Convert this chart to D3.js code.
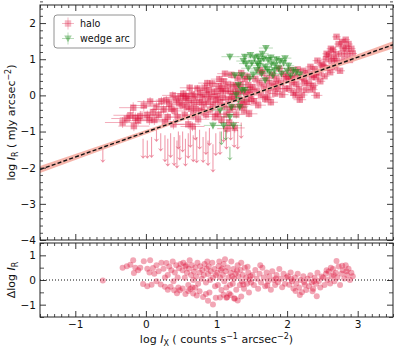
<!DOCTYPE html>
<html><head><meta charset="utf-8">
<script src="https://cdn.jsdelivr.net/npm/d3@7"></script>
<style>body{margin:0;background:#fff}svg{display:block}text{font-family:"DejaVu Sans",sans-serif;fill:#111}</style>
</head><body><svg id="c" width="399" height="352"></svg>
<script>
// ---- data ----
const xTicks = [-1, 0, 1, 2, 3];
const yTicksMain = [-4, -3, -2, -1, 0, 1, 2];
const yTicksResid = [-1, 0, 1];
const fitCoef = [-1.015, 0.69];               // intercept, slope of dashed fit
const bandX = [-1.5, -0.5, 0.5, 1.2, 2.0, 3.0, 3.5];
const bandHalf = [0.10, 0.07, 0.045, 0.035, 0.045, 0.08, 0.10];
const legendLabels = ["halo", "wedge arc"];
// halo detections: [log Ix, log Ir, xerr, yerr]
const halo = [
[-0.33,-0.75,0.25,0.15],[-0.27,-0.64,0.22,0.14],[-0.22,-0.55,0.24,0.16],[-0.18,-0.34,0.2,0.15],[-0.17,-0.85,0.22,0.14],[-0.11,-0.70,0.2,0.13],[-0.03,-0.28,0.18,0.15],[-0.08,-0.57,0.2,0.14],[0.06,-0.17,0.18,0.12],[0.02,-0.55,0.2,0.13],[0.10,-0.46,0.18,0.12],[0.05,-0.68,0.2,0.14],[-0.15,-0.62,0.22,0.15],
[0.15,-0.31,0.18,0.12],[0.18,-0.54,0.17,0.13],[0.22,-0.16,0.16,0.12],[0.25,-0.39,0.18,0.12],[0.29,-0.13,0.15,0.11],[0.31,-0.60,0.17,0.13],[0.33,-0.24,0.16,0.12],[0.36,-0.37,0.15,0.12],[0.38,0.00,0.15,0.11],[0.41,-0.43,0.16,0.12],[0.43,-0.12,0.15,0.11],[0.45,-0.60,0.16,0.13],[0.47,-0.21,0.14,0.11],[0.49,-0.03,0.14,0.1],[0.27,-0.73,0.18,0.14],[0.12,-0.68,0.2,0.14],[0.39,-0.80,0.16,0.14],
[0.52,-0.26,0.16,0.11],[0.53,0.05,0.15,0.1],[0.55,-0.54,0.17,0.12],[0.56,-0.08,0.15,0.1],[0.58,-0.32,0.16,0.11],[0.60,-0.80,0.17,0.13],[0.61,-0.14,0.15,0.1],[0.62,0.21,0.14,0.1],[0.64,-0.37,0.16,0.11],[0.65,0.03,0.15,0.1],[0.67,-0.55,0.16,0.12],[0.68,-0.20,0.15,0.1],[0.70,-0.03,0.14,0.1],[0.71,-0.38,0.15,0.11],[0.73,0.19,0.14,0.1],[0.74,-0.66,0.16,0.12],[0.76,-0.19,0.14,0.1],[0.77,0.07,0.14,0.1],[0.79,-0.42,0.15,0.11],[0.80,-0.06,0.14,0.1],[0.82,-0.25,0.14,0.1],[0.83,0.21,0.13,0.1],[0.85,-0.53,0.15,0.12],[0.86,0.03,0.13,0.1],[0.88,-0.16,0.14,0.1],[0.89,0.15,0.13,0.09],[0.91,-0.39,0.14,0.11],[0.92,-0.03,0.13,0.1],[0.94,0.33,0.13,0.09],[0.95,-0.26,0.14,0.1],[0.97,0.10,0.13,0.09],[0.98,-0.59,0.15,0.12],[0.99,-0.13,0.13,0.1],[0.57,-0.02,0.15,0.1],[0.66,-0.86,0.17,0.13],[0.87,0.34,0.13,0.09],
[1.01,-0.02,0.12,0.09],[1.02,-0.51,0.13,0.11],[1.03,0.25,0.12,0.09],[1.05,-0.19,0.12,0.1],[1.06,0.12,0.12,0.09],[1.07,-0.68,0.14,0.12],[1.09,-0.06,0.12,0.09],[1.10,0.39,0.11,0.08],[1.11,-0.30,0.12,0.1],[1.13,0.12,0.11,0.09],[1.14,-0.53,0.13,0.11],[1.16,0.29,0.11,0.08],[1.17,-0.11,0.12,0.09],[1.18,-0.75,0.14,0.12],[1.20,0.11,0.11,0.09],[1.21,0.57,0.11,0.08],[1.23,-0.32,0.12,0.1],[1.24,0.29,0.11,0.08],[1.25,-0.10,0.11,0.09],[1.27,0.11,0.11,0.09],[1.28,-0.53,0.13,0.11],[1.30,0.48,0.1,0.08],[1.31,0.04,0.11,0.09],[1.33,-0.30,0.12,0.1],[1.34,0.31,0.1,0.08],[1.36,-0.13,0.11,0.09],[1.37,0.13,0.1,0.08],[1.39,-0.41,0.12,0.1],[1.40,0.45,0.1,0.08],[1.42,0.07,0.1,0.08],[1.43,-0.18,0.11,0.09],[1.45,0.29,0.1,0.08],[1.46,-0.51,0.12,0.1],[1.48,0.16,0.1,0.08],[1.49,-0.09,0.1,0.09],[1.15,-0.92,0.14,0.13],[1.26,-0.90,0.14,0.13],
[1.04,0.45,0.12,0.09],[1.12,0.60,0.11,0.08],[1.19,-0.40,0.12,0.1],[1.22,-0.02,0.11,0.09],[1.29,0.25,0.11,0.08],[1.35,0.62,0.1,0.08],[1.38,-0.25,0.11,0.09],[1.44,0.52,0.1,0.08],[1.47,0.02,0.1,0.08],[1.08,0.20,0.12,0.09],
[1.51,0.23,0.1,0.08],[1.53,-0.16,0.1,0.09],[1.55,0.46,0.09,0.07],[1.57,0.12,0.1,0.08],[1.59,-0.27,0.11,0.09],[1.61,0.35,0.09,0.07],[1.63,0.01,0.1,0.08],[1.65,0.62,0.09,0.07],[1.67,0.24,0.09,0.08],[1.69,-0.10,0.1,0.09],[1.71,0.47,0.09,0.07],[1.73,0.13,0.09,0.08],[1.75,0.34,0.09,0.07],[1.77,-0.19,0.1,0.09],[1.79,0.57,0.09,0.07],[1.81,0.23,0.09,0.08],[1.83,0.05,0.09,0.08],[1.85,0.46,0.08,0.07],[1.87,0.18,0.09,0.08],[1.89,0.74,0.08,0.07],[1.91,0.35,0.08,0.07],[1.93,0.02,0.09,0.08],[1.95,0.58,0.08,0.07],[1.97,0.19,0.08,0.07],[1.99,0.46,0.08,0.07],[1.62,0.70,0.09,0.07],[1.72,-0.05,0.1,0.08],[1.84,0.32,0.09,0.07],
[2.01,0.52,0.08,0.07],[2.03,0.19,0.08,0.07],[2.05,0.70,0.08,0.06],[2.07,0.36,0.08,0.07],[2.09,0.08,0.08,0.07],[2.11,0.54,0.08,0.06],[2.13,0.31,0.08,0.07],[2.15,0.72,0.07,0.06],[2.17,0.18,0.08,0.07],[2.19,0.50,0.07,0.06],[2.21,0.01,0.08,0.07],[2.23,0.68,0.07,0.06],[2.25,0.34,0.07,0.06],[2.27,0.15,0.08,0.07],[2.29,0.62,0.07,0.06],[2.31,0.33,0.07,0.06],[2.33,0.79,0.07,0.06],[2.35,0.51,0.07,0.06],[2.37,0.27,0.07,0.06],[2.39,0.73,0.07,0.06],[2.41,0.50,0.07,0.06],[2.43,0.96,0.07,0.06],[2.45,0.63,0.07,0.06],[2.47,0.39,0.07,0.06],[2.49,0.85,0.07,0.06],[2.12,0.00,0.08,0.07],[2.36,0.16,0.07,0.07],[2.18,-0.12,0.09,0.08],[2.42,0.00,0.08,0.07],[2.06,0.45,0.08,0.06],[2.24,0.45,0.07,0.06],[2.38,0.58,0.07,0.06],
[2.51,0.82,0.07,0.06],[2.53,0.53,0.07,0.06],[2.55,1.00,0.07,0.06],[2.57,0.76,0.07,0.06],[2.59,1.12,0.06,0.05],[2.61,0.64,0.07,0.06],[2.63,0.95,0.06,0.05],[2.65,1.26,0.06,0.05],[2.67,0.78,0.07,0.06],[2.69,1.14,0.06,0.05],[2.71,0.96,0.06,0.05],[2.73,1.42,0.06,0.05],[2.75,0.68,0.07,0.06],[2.77,1.15,0.06,0.05],[2.79,1.31,0.06,0.05],[2.81,0.98,0.06,0.05],[2.83,1.54,0.06,0.05],[2.85,1.15,0.06,0.05],[2.87,1.42,0.06,0.05],[2.89,0.98,0.06,0.05],[2.91,1.29,0.06,0.05],[2.93,1.16,0.06,0.05],[2.70,1.62,0.06,0.05],[2.62,1.29,0.06,0.05],[2.56,1.15,0.06,0.05],[2.66,1.02,0.06,0.05],[2.78,1.48,0.06,0.05],[2.84,1.30,0.06,0.05]
];
// halo upper limits: [log Ix, limit, arrow length]
const haloLimits = [
[-0.61,-1.46,0.40],[-0.04,-1.20,0.55],[0.08,-1.15,0.58],[0.02,-1.25,0.50],[0.15,-0.96,0.33],[0.27,-1.10,0.75],[0.31,-1.20,0.77],[0.35,-1.05,0.68],[0.40,-1.15,0.80],[0.44,-1.25,0.77],[0.48,-1.10,0.70],[0.52,-1.00,0.58],[0.56,-1.20,0.77],[0.60,-1.05,0.70],[0.63,-0.95,0.50],[0.67,-1.10,0.75],[0.72,-1.15,0.73],[0.76,-0.95,0.55],[0.81,-1.15,0.72],[0.85,-1.00,0.65],[0.90,-0.90,0.50],[0.95,-1.35,0.78],[0.99,-1.05,0.63],[1.05,-1.00,0.65],[1.10,-0.85,0.45],[1.14,-0.95,0.55],[1.20,-0.80,0.45],[1.25,-0.90,0.55],[1.30,-0.95,0.55],[1.35,-0.75,0.45],[0.46,-1.00,0.50],[0.70,-0.85,0.40],[0.88,-1.25,0.70],[0.21,-1.05,0.50]
];
// wedge arc detections: [log Ix, log Ir, xerr, yerr]
const wedge = [
[1.19,1.07,0.12,0.1],[1.70,1.31,0.1,0.08],[1.40,1.07,0.1,0.08],[1.54,1.04,0.1,0.08],[1.59,1.07,0.1,0.08],[1.73,0.98,0.09,0.08],[1.97,1.03,0.09,0.08],[1.83,0.84,0.09,0.08],[1.45,0.75,0.1,0.08],[1.69,0.79,0.09,0.08],[2.09,0.70,0.08,0.07],[2.13,0.65,0.08,0.07],[1.36,0.56,0.1,0.08],[1.47,0.47,0.1,0.08],[1.69,0.42,0.09,0.08],[1.31,0.29,0.1,0.09],[1.36,0.15,0.1,0.09],[1.40,0.15,0.1,0.09],[1.31,-0.13,0.11,0.09],[1.05,-0.41,0.12,0.1],[1.21,-0.32,0.11,0.1],[1.33,-0.32,0.11,0.1],[1.19,-0.59,0.12,0.1],[0.95,-0.83,0.13,0.11],[1.24,-0.83,0.12,0.11],[1.10,-0.83,0.12,0.11],[1.26,0.56,0.1,0.08],[1.50,0.90,0.1,0.08],[1.62,0.95,0.09,0.08],[1.78,0.88,0.09,0.08],[1.88,0.75,0.09,0.08],[1.92,0.60,0.09,0.08],[2.02,0.82,0.08,0.07],[2.18,0.58,0.08,0.07],[1.57,0.70,0.09,0.08],[1.64,0.60,0.09,0.08],[1.75,0.65,0.09,0.08],[1.85,1.00,0.09,0.08],[1.52,0.58,0.1,0.08],[1.42,0.88,0.1,0.08],[1.60,0.82,0.09,0.08],[1.95,0.90,0.09,0.08],[2.05,0.55,0.08,0.07],[1.80,0.55,0.09,0.08],[1.28,0.02,0.1,0.09],
[1.48,1.12,0.1,0.08],[1.65,1.15,0.09,0.08],[1.77,1.05,0.09,0.08],[1.90,0.95,0.09,0.08],[1.58,0.88,0.09,0.08],[1.72,0.72,0.09,0.08],[1.38,0.95,0.1,0.08],[1.82,0.70,0.09,0.08],[1.67,1.02,0.09,0.08],[2.00,0.68,0.08,0.07]
];
const wedgeLimits = [[1.07,-1.00,0.38],[1.19,-1.42,0.38],[1.13,-0.95,0.30]];

// ---- drawing ----
const svg = d3.select("#c");
const L = 40, R = 393, T1 = 5, B1 = 240, T2 = 243, B2 = 317;
const x = d3.scaleLinear([-1.5, 3.5], [L, R]);
const yM = d3.scaleLinear([-4, 2.5], [B1, T1]);
const yR = d3.scaleLinear([-1.5, 1.5], [B2, T2]);
const fit = v => fitCoef[0] + fitCoef[1] * v;
const RED = "#dc143c", GRN = "#1a8a1a";

const defs = svg.append("defs");
defs.append("clipPath").attr("id", "cm").append("rect").attr("x", L).attr("y", T1).attr("width", R - L).attr("height", B1 - T1);
defs.append("clipPath").attr("id", "cr").append("rect").attr("x", L).attr("y", T2).attr("width", R - L).attr("height", B2 - T2);

const gm = svg.append("g").attr("clip-path", "url(#cm)");

// upper limits
function drawLimits(g, arr, col, op) {
  arr.forEach(d => {
    const cx = x(d[0]), y0 = yM(d[1]), y1 = yM(d[1] - d[2]);
    g.append("line").attr("x1", cx).attr("x2", cx).attr("y1", y0).attr("y2", y1 - 2)
      .attr("stroke", col).attr("stroke-opacity", op).attr("stroke-width", 1.1);
    g.append("path").attr("d", `M${cx - 2.8},${y1 - 3.4}L${cx},${y1}L${cx + 2.8},${y1 - 3.4}L${cx},${y1 - 2}Z`)
      .attr("fill", col).attr("fill-opacity", op + 0.08);
  });
}
drawLimits(gm.append("g"), haloLimits, RED, 0.42);

// halo detections with error bars
const gh = gm.append("g");
halo.forEach(d => {
  const cx = x(d[0]), cy = yM(d[1]);
  gh.append("line").attr("x1", x(d[0] - d[2])).attr("x2", x(d[0] + d[2])).attr("y1", cy).attr("y2", cy)
    .attr("stroke", RED).attr("stroke-opacity", 0.35).attr("stroke-width", 1);
  gh.append("line").attr("x1", cx).attr("x2", cx).attr("y1", yM(d[1] - d[3])).attr("y2", yM(d[1] + d[3]))
    .attr("stroke", RED).attr("stroke-opacity", 0.35).attr("stroke-width", 1);
  gh.append("rect").attr("x", cx - 3.2).attr("y", cy - 3.2).attr("width", 6.4).attr("height", 6.4)
    .attr("fill", RED).attr("fill-opacity", 0.46);
});

// wedge arc
const gw = gm.append("g");
wedge.forEach(d => {
  const cx = x(d[0]), cy = yM(d[1]);
  gw.append("line").attr("x1", x(d[0] - d[2])).attr("x2", x(d[0] + d[2])).attr("y1", cy).attr("y2", cy)
    .attr("stroke", GRN).attr("stroke-opacity", 0.3);
  gw.append("line").attr("x1", cx).attr("x2", cx).attr("y1", yM(d[1] - d[3])).attr("y2", yM(d[1] + d[3]))
    .attr("stroke", GRN).attr("stroke-opacity", 0.3);
  gw.append("path").attr("d", `M${cx - 3.8},${cy - 3}L${cx + 3.8},${cy - 3}L${cx},${cy + 3.8}Z`)
    .attr("fill", GRN).attr("fill-opacity", 0.52);
});
drawLimits(gm.append("g"), wedgeLimits, GRN, 0.45);

// fit band and line
const band = d3.area().x(d => x(d)).y0((d, i) => yM(fit(d) - bandHalf[i])).y1((d, i) => yM(fit(d) + bandHalf[i])).curve(d3.curveMonotoneX);
gm.append("path").attr("d", band(bandX)).attr("fill", "#f5a89c").attr("fill-opacity", 0.85);
gm.append("line").attr("x1", x(-1.5)).attr("x2", x(3.5)).attr("y1", yM(fit(-1.5))).attr("y2", yM(fit(3.5)))
  .attr("stroke", "#111").attr("stroke-width", 1.4).attr("stroke-dasharray", "4,2.2");

// residual panel
const gr = svg.append("g").attr("clip-path", "url(#cr)");
gr.append("line").attr("x1", L).attr("x2", R).attr("y1", yR(0)).attr("y2", yR(0))
  .attr("stroke", "#111").attr("stroke-width", 1).attr("stroke-dasharray", "1,2");
const resid = halo.map(d => [d[0], d[1] - fit(d[0])]).concat(haloLimits.map(d => [d[0], d[1] - fit(d[0])]));
gr.selectAll("circle").data(resid).join("circle")
  .attr("cx", d => x(d[0])).attr("cy", d => yR(d[1])).attr("r", 3)
  .attr("fill", RED).attr("fill-opacity", 0.38);

// axes
const fmt = d3.format("d");
function minors(lo, hi, step, majors) {
  return d3.range(Math.round(lo / step), Math.round(hi / step) + 1).map(i => +(i * step).toFixed(4))
    .filter(v => !majors.some(m => Math.abs(m - v) < 1e-6));
}
function ax(fn, scale, majors, mins, tr, labels, minorLen) {
  const g1 = svg.append("g").attr("transform", tr)
    .call(fn(scale).tickValues(majors).tickSize(-6).tickPadding(labels ? 4 : 0).tickFormat(labels ? fmt : () => ""));
  g1.select(".domain").remove();
  g1.selectAll("line").attr("stroke", "#222").attr("stroke-width", 0.9);
  g1.selectAll("text").attr("font-size", 10.5).attr("font-family", "DejaVu Sans").attr("fill", "#111");
  const g2 = svg.append("g").attr("transform", tr)
    .call(fn(scale).tickValues(mins).tickSize(-(minorLen || 3)).tickFormat(() => ""));
  g2.select(".domain").remove();
  g2.selectAll("line").attr("stroke", "#222").attr("stroke-width", 0.8);
}
const xMin = minors(-1.5, 3.5, 0.1, xTicks);
const yMinM = minors(-4, 2.5, 0.2, yTicksMain);
const yMinR = minors(-1.5, 1.5, 0.5, yTicksResid);
// main
ax(d3.axisBottom, x, xTicks, xMin, `translate(0,${B1})`, false);
ax(d3.axisTop, x, xTicks, xMin, `translate(0,${T1})`, false);
ax(d3.axisLeft, yM, yTicksMain, yMinM, `translate(${L},0)`, true);
ax(d3.axisRight, yM, yTicksMain, yMinM, `translate(${R},0)`, false);
// residual
ax(d3.axisBottom, x, xTicks, xMin, `translate(0,${B2})`, true);
ax(d3.axisTop, x, xTicks, xMin, `translate(0,${T2})`, false);
ax(d3.axisLeft, yR, yTicksResid, yMinR, `translate(${L},0)`, true, 4);
ax(d3.axisRight, yR, yTicksResid, yMinR, `translate(${R},0)`, false, 4);

svg.append("rect").attr("x", L).attr("y", T1).attr("width", R - L).attr("height", B1 - T1)
  .attr("fill", "none").attr("stroke", "#222").attr("stroke-width", 1);
svg.append("rect").attr("x", L).attr("y", T2).attr("width", R - L).attr("height", B2 - T2)
  .attr("fill", "none").attr("stroke", "#222").attr("stroke-width", 1);

// axis labels
function label(g, parts) {
  const t = g.append("text").attr("text-anchor", "middle").attr("font-size", 11);
  parts.forEach(p => {
    const s = t.append("tspan").text(p.t);
    if (p.i) s.attr("font-style", "italic");
    if (p.sub) s.attr("font-size", 8).attr("dy", 2.5);
    if (p.sup) s.attr("font-size", 8).attr("dy", -4);
    if (p.back) s.attr("dy", p.back);
  });
  return t;
}
const yl = svg.append("g").attr("transform", `translate(15,${(T1 + B1) / 2}) rotate(-90)`);
label(yl, [{t: "log "}, {t: "I", i: 1}, {t: "R", sub: 1}, {t: " ( mJy arcsec", back: -2.5}, {t: "−2", sup: 1}, {t: ")", back: 4}]);
const rl = svg.append("g").attr("transform", `translate(15,${(T2 + B2) / 2}) rotate(-90)`);
label(rl, [{t: "Δlog "}, {t: "I", i: 1}, {t: "R", sub: 1}]);
const xl = svg.append("g").attr("transform", `translate(${(L + R) / 2},343)`);
label(xl, [{t: "log "}, {t: "I", i: 1}, {t: "X", sub: 1}, {t: " ( counts s", back: -2.5}, {t: "−1", sup: 1}, {t: " arcsec", back: 4}, {t: "−2", sup: 1}, {t: ")", back: 4}]);

// legend
const lg = svg.append("g");
lg.append("rect").attr("x", 54).attr("y", 15).attr("width", 81).attr("height", 33).attr("rx", 3)
  .attr("fill", "#fff").attr("fill-opacity", 0.85).attr("stroke", "#777").attr("stroke-width", 0.8);
const lx = 68, ly1 = 23.5, ly2 = 38.5;
lg.append("line").attr("x1", lx - 6).attr("x2", lx + 6).attr("y1", ly1).attr("y2", ly1).attr("stroke", RED).attr("stroke-opacity", 0.3);
lg.append("line").attr("x1", lx).attr("x2", lx).attr("y1", ly1 - 6).attr("y2", ly1 + 6).attr("stroke", RED).attr("stroke-opacity", 0.3);
lg.append("rect").attr("x", lx - 3.2).attr("y", ly1 - 3.2).attr("width", 6.4).attr("height", 6.4).attr("fill", RED).attr("fill-opacity", 0.3);
lg.append("line").attr("x1", lx - 6).attr("x2", lx + 6).attr("y1", ly2).attr("y2", ly2).attr("stroke", GRN).attr("stroke-opacity", 0.3);
lg.append("line").attr("x1", lx).attr("x2", lx).attr("y1", ly2 - 6).attr("y2", ly2 + 6).attr("stroke", GRN).attr("stroke-opacity", 0.3);
lg.append("path").attr("d", `M${lx - 3.8},${ly2 - 3}L${lx + 3.8},${ly2 - 3}L${lx},${ly2 + 3.8}Z`).attr("fill", GRN).attr("fill-opacity", 0.4);
lg.selectAll("text.l").data(legendLabels).join("text").attr("class", "l")
  .attr("x", 80).attr("y", (d, i) => [ly1, ly2][i] + 3.6).attr("font-size", 9.6).text(d => d);
</script></body></html>
